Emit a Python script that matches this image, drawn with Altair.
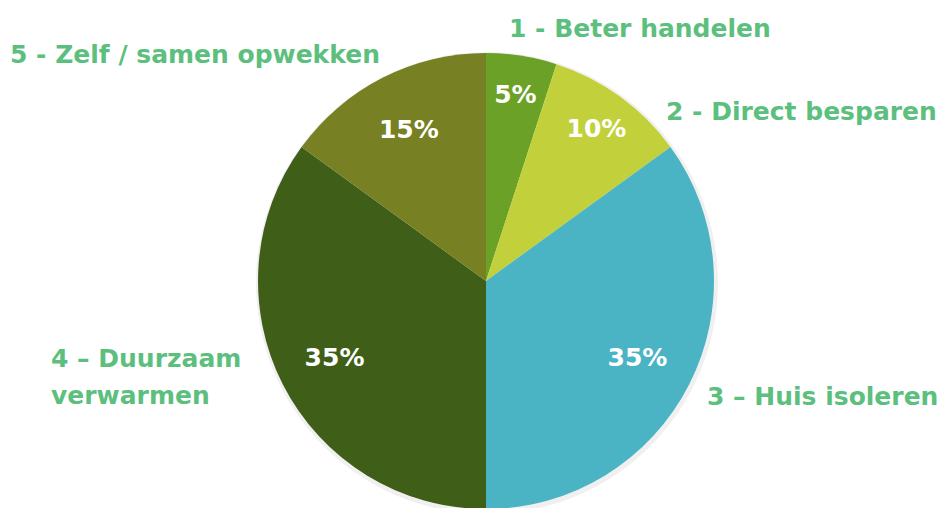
import altair as alt
import pandas as pd

# Data
categories = ["1 - Beter handelen", "2 - Direct besparen", "3 – Huis isoleren",
              "4 – Duurzaam verwarmen", "5 - Zelf / samen opwekken"]
values = [5, 10, 35, 35, 15]
pct_labels = ["5%", "10%", "35%", "35%", "15%"]
colors = ["#6aa126", "#c2d13b", "#4ab4c5", "#3f5f18", "#778022"]

# Layout (not data)
CX, CY, R = 486, 281, 228
LABEL_COLOR = "#5cbf7e"
FONT = "DejaVu Sans"
label_pos = {
    "1 - Beter handelen": (509, 29),
    "2 - Direct besparen": (666, 112),
    "3 – Huis isoleren": (707, 397),
    "4 – Duurzaam verwarmen": (51, 359),
    "5 - Zelf / samen opwekken": (10, 55),
}
display = {"4 – Duurzaam verwarmen": "4 – Duurzaam\nverwarmen"}

df = pd.DataFrame({
    "category": categories,
    "value": values,
    "pct": pct_labels,
    "idx": list(range(len(categories))),
})

theta_scale = alt.Scale(domain=[0, sum(values)])

base = alt.Chart(df).encode(
    theta=alt.Theta("value:Q", stack=True, scale=theta_scale),
    order=alt.Order("idx:Q"),
    x=alt.value(CX),
    y=alt.value(CY),
)

shadow = base.mark_arc(radius=R + 3, color="#000000", opacity=0.06).encode(
    x=alt.value(CX + 1), y=alt.value(CY + 2)
)

pie = base.mark_arc(radius=R).encode(
    color=alt.Color("category:N", scale=alt.Scale(domain=categories, range=colors), legend=None)
)

pct = alt.Chart(df).transform_window(
    cum="sum(value)", sort=[alt.SortField("idx")], frame=[None, 0]
).transform_calculate(
    mid="datum.cum - datum.value / 2",
    r="datum.value <= 10 ? 188 : 170",
).mark_text(
    font=FONT, fontSize=25, fontWeight="bold", color="white",
    align="center", baseline="middle"
).encode(
    theta=alt.Theta("mid:Q", stack=None, scale=theta_scale),
    radius=alt.Radius("r:Q", scale=None),
    text="pct:N",
    x=alt.value(CX),
    y=alt.value(CY),
)

layers = [shadow, pie, pct]
for cat in categories:
    x, y = label_pos[cat]
    layers.append(
        alt.Chart(pd.DataFrame({"t": [display.get(cat, cat)]})).mark_text(
            font=FONT, fontSize=25, fontWeight="bold", color=LABEL_COLOR,
            align="left", baseline="middle", lineBreak="\n", lineHeight=37
        ).encode(text="t:N", x=alt.value(x), y=alt.value(y))
    )

chart = alt.layer(*layers).properties(
    width=940, height=508,
    autosize=alt.AutoSizeParams(type="none"),
    padding=0,
).configure_view(stroke=None)

chart.save("out.html", embed_options={"renderer": "svg", "actions": False})
